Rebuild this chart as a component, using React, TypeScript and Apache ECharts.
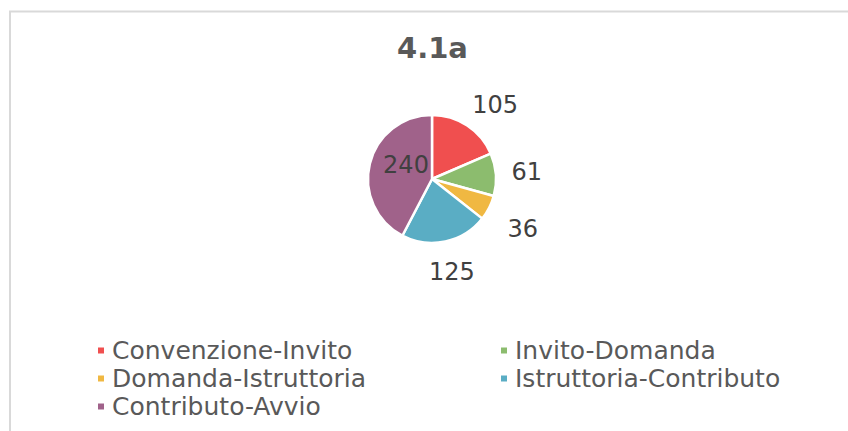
import React, { useEffect, useRef } from "react";
import * as echarts from "echarts";

const titleText = "4.1a";
const categories = [
  "Convenzione-Invito",
  "Invito-Domanda",
  "Domanda-Istruttoria",
  "Istruttoria-Contributo",
  "Contributo-Avvio",
];
const values = [105, 61, 36, 125, 240];
const colors = ["#F04F4F", "#8CBC6E", "#F0B842", "#5AADC4", "#A0628A"];
const insideLabelIndex = 4;
const legendCol1 = [categories[0], categories[2], categories[4]];
const legendCol2 = [categories[1], categories[3]];

// label nudges [dx, dy] in px (styling only)
const labelNudges: number[][] = [
  [11, 5],
  [0, 0],
  [6, 7],
  [0, 0],
  [8, -6],
];

const FONT = "DejaVu Sans";

function nudgeStyle(n: number[]) {
  const [dx, dy] = n;
  const s: any = {};
  if (dx > 0) s.padding = [0, 0, 0, dx * 2];
  else if (dx < 0) s.padding = [0, -dx * 2, 0, 0];
  if (dy > 0) s.formatter = "{p| }\n{v|{c}}";
  else if (dy < 0) s.formatter = "{v|{c}}\n{p| }";
  else s.formatter = "{v|{c}}";
  s.rich = {
    p: { fontSize: 1, lineHeight: Math.max(1, Math.abs(dy) * 2) },
    v: { fontFamily: FONT, fontSize: 24, lineHeight: 26, color: "#404040" },
  };
  return s;
}

export default function App() {
  const ref = useRef<HTMLDivElement>(null);
  useEffect(() => {
    document.body.style.margin = "0";
    const chart = echarts.init(ref.current!, null, { renderer: "svg" });
    const center = [432, 179];
    const mainData = categories.map((name, i) => ({
      name,
      value: values[i],
      itemStyle: { color: colors[i] },
      label: { show: i === insideLabelIndex, ...nudgeStyle(labelNudges[i]) },
    }));
    const labelData = categories.map((name, i) => ({
      name,
      value: values[i],
      label: { show: i !== insideLabelIndex, ...nudgeStyle(labelNudges[i]) },
    }));
    const legendBase = {
      orient: "vertical" as const,
      icon: "rect",
      itemWidth: 8,
      itemHeight: 8,
      itemGap: 3,
      padding: 0,
      selectedMode: false,
      textStyle: {
        fontFamily: FONT,
        fontSize: 25,
        color: "#595959",
        padding: [0, 0, 0, 2],
      },
    };
    chart.setOption({
      animation: false,
      backgroundColor: "#ffffff",
      title: {
        text: titleText,
        left: 397,
        top: 34,
        padding: 0,
        textStyle: {
          fontFamily: FONT,
          fontSize: 29,
          fontWeight: "bold",
          color: "#595959",
          lineHeight: 28,
        },
      },
      graphic: [
        {
          type: "rect",
          shape: { x: 10, y: 11.5, width: 900, height: 500 },
          style: { fill: "none", stroke: "#d9d9d9", lineWidth: 2 },
          silent: true,
        },
      ],
      legend: [
        { ...legendBase, data: legendCol1, left: 96, top: 338 },
        { ...legendBase, data: legendCol2, left: 499, top: 338 },
      ],
      series: [
        {
          type: "pie",
          center,
          radius: 64,
          startAngle: 90,
          clockwise: true,
          avoidLabelOverlap: false,
          itemStyle: { borderColor: "#ffffff", borderWidth: 2.5 },
          label: {
            position: "inside",
            fontFamily: FONT,
            fontSize: 24,
            color: "#404040",
          },
          labelLine: { show: false },
          emphasis: { disabled: true },
          data: mainData,
        },
        {
          type: "pie",
          center,
          radius: [86, 98],
          startAngle: 90,
          clockwise: true,
          silent: true,
          legendHoverLink: false,
          avoidLabelOverlap: false,
          itemStyle: { color: "rgba(0,0,0,0)" },
          label: {
            position: "inside",
            fontFamily: FONT,
            fontSize: 24,
            color: "#404040",
          },
          labelLine: { show: false },
          emphasis: { disabled: true },
          data: labelData,
        },
      ],
    });
    return () => chart.dispose();
  }, []);
  return <div ref={ref} style={{ width: 848, height: 431 }} />;
}
